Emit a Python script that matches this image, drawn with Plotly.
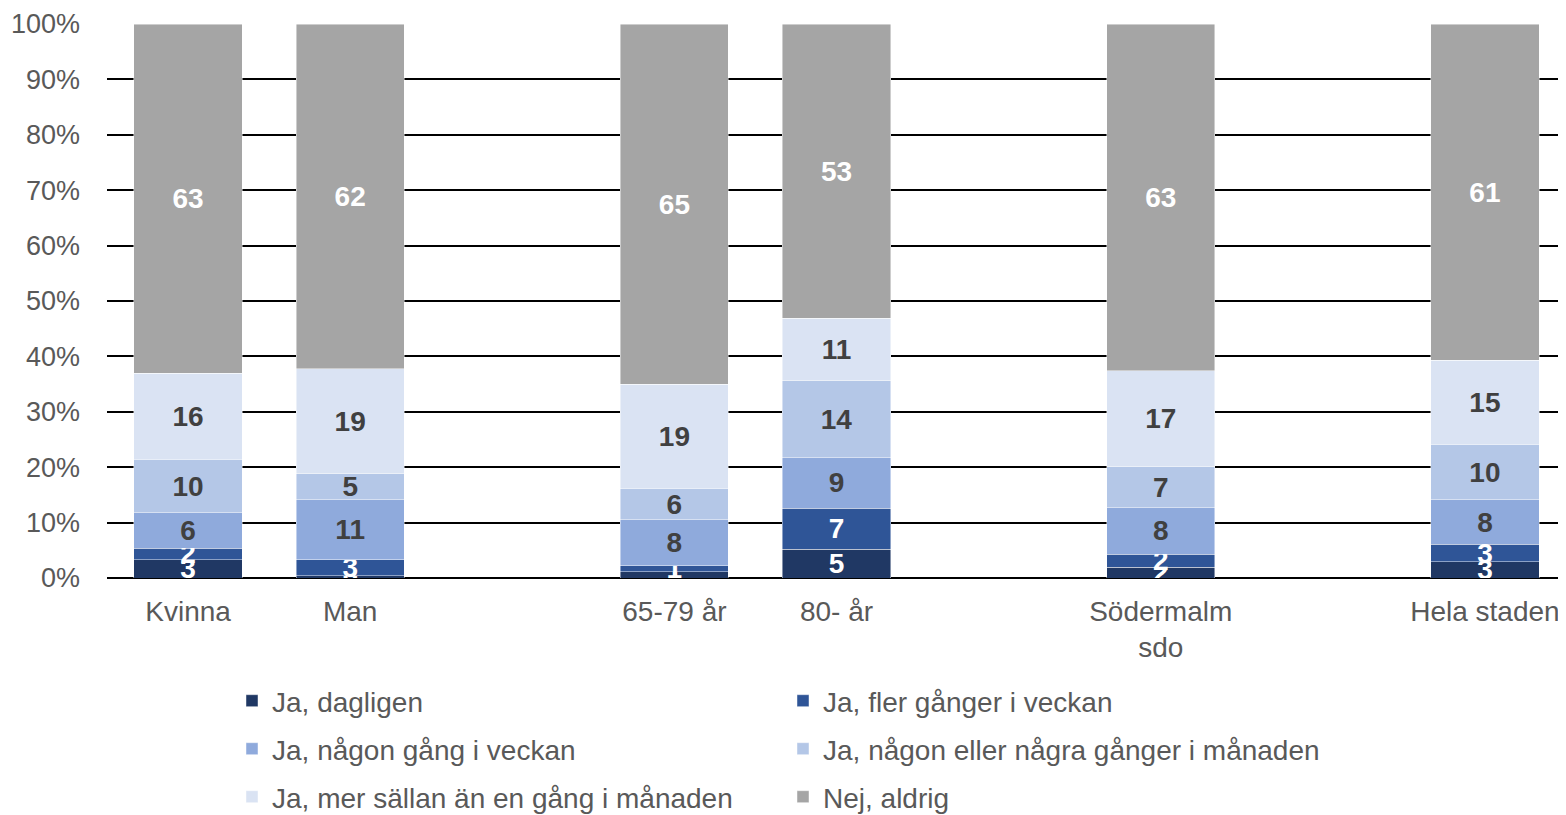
import plotly.graph_objects as go

# ---- data ----
categories = ["Kvinna", "Man", "65-79 år", "80- år", "Södermalm<br>sdo", "Hela staden"]
series_names = [
    "Ja, dagligen",
    "Ja, fler gånger i veckan",
    "Ja, någon gång i veckan",
    "Ja, någon eller några gånger i månaden",
    "Ja, mer sällan än en gång i månaden",
    "Nej, aldrig",
]
dagligen = [3.3, 0.4, 1.1, 5.2, 1.9, 2.9]
fler_ganger = [2.1, 2.9, 1.1, 7.4, 2.4, 3.2]
nagon_gang_vecka = [6.4, 10.8, 8.3, 9.1, 8.4, 8.0]
nagon_manad = [9.6, 4.7, 5.7, 13.9, 7.4, 10.0]
mer_sallan = [15.6, 19.0, 18.8, 11.3, 17.3, 15.2]
nej_aldrig = [63.0, 62.2, 65.0, 53.1, 62.6, 60.7]
y_ticks = [0, 10, 20, 30, 40, 50, 60, 70, 80, 90, 100]

# ---- layout / style ----
slots = [0, 1, 3, 4, 6, 8]  # category slot positions (gaps between groups)
colors = ["#203864", "#2f5597", "#8faadc", "#b4c7e7", "#dae3f3", "#a5a5a5"]
label_colors = ["white", "white", "#404040", "#404040", "#404040", "white"]
FONT = "Liberation Sans, Arial, sans-serif"
GRAY = "#595959"

values = [dagligen, fler_ganger, nagon_gang_vecka, nagon_manad, mer_sallan, nej_aldrig]
legend_ids = ["legend", "legend", "legend2", "legend2", "legend3", "legend3"]

fig = go.Figure()
for name, vals, col, lcol, lg in zip(series_names, values, colors, label_colors, legend_ids):
    fig.add_trace(go.Bar(
        x=slots, y=vals, name=name,
        marker=dict(color=col, line=dict(color="rgba(255,255,255,0.6)", width=0.75)),
        width=0.667,
        texttemplate="%{y:.0f}",
        textposition="inside",
        insidetextanchor="middle",
        textangle=0,
        textfont=dict(family=FONT, size=28, color=lcol, weight="bold"),
        legend=lg,
        hoverinfo="skip",
    ))

# page body has an 8px margin, so the figure is drawn 8px right/down
OFF = 8
W, H = 1566 - OFF, 815 - OFF
ml, mr, mt, mb = 107 - OFF, 0, 24 - OFF, H - (578 - OFF)
ph = H - mt - mb
plot_bottom = H - mb

def ypos(screen_y):
    return (plot_bottom - (screen_y - OFF - 1)) / ph

legend_common = dict(
    orientation="h", xanchor="left", yanchor="middle",
    font=dict(family=FONT, size=28, color=GRAY),
    entrywidth=506, entrywidthmode="pixels",
    traceorder="normal", bgcolor="rgba(0,0,0,0)",
    itemclick=False, itemdoubleclick=False,
)
lx = (232 - OFF - ml) / (W - ml - mr)
fig.update_layout(
    width=W, height=H,
    margin=dict(l=ml, r=mr, t=mt, b=mb, autoexpand=False),
    barmode="stack",
    plot_bgcolor="white", paper_bgcolor="white",
    font=dict(family=FONT, size=26, color=GRAY),
    showlegend=True,
    legend=dict(legend_common, x=lx, y=ypos(702)),
    legend2=dict(legend_common, x=lx, y=ypos(750)),
    legend3=dict(legend_common, x=lx, y=ypos(798)),
    uniformtext=dict(minsize=28, mode="show"),
    xaxis=dict(
        range=[-0.5, 8.5], automargin=False,
        tickmode="array", tickvals=slots, ticktext=categories,
        showgrid=False, zeroline=False, showline=False, ticks="",
        ticklabelstandoff=14,
        tickfont=dict(family=FONT, size=28, color=GRAY),
    ),
    yaxis=dict(
        range=[0, 100], automargin=False,
        tickmode="array", tickvals=y_ticks, ticktext=[f"{v}%" for v in y_ticks],
        showgrid=True, gridcolor="black", gridwidth=1.5,
        zeroline=True, zerolinecolor="black", zerolinewidth=1.5,
        showline=False, ticks="",
        ticklabelstandoff=26,
        tickfont=dict(family=FONT, size=27, color=GRAY),
    ),
)

fig.write_html("out.html")
